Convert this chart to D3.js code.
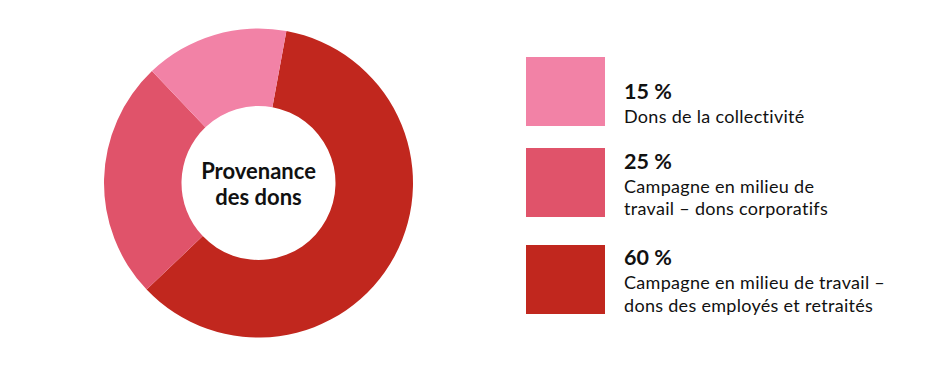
<!DOCTYPE html>
<html>
<head>
<meta charset="utf-8">
<script src="https://cdn.jsdelivr.net/npm/d3@7"></script>
<style>
  html, body { margin: 0; padding: 0; background: #ffffff; }
  svg { display: block; font-family: Lato, "Noto Sans", sans-serif; font-variant-ligatures: none; }
</style>
</head>
<body>
<svg id="chart" width="940" height="366"></svg>
<script>
// Data
const categories = [
  "Campagne en milieu de travail – dons des employés et retraités",
  "Campagne en milieu de travail – dons corporatifs",
  "Dons de la collectivité"
];
const values = [60, 25, 15];
const percentLabels = ["60 %", "25 %", "15 %"];
const colors = ["#c1271e", "#e0536a", "#f282a6"];
// legend order (top to bottom) and line breaks
const legendOrder = [2, 1, 0];
const legendLines = [
  ["Campagne en milieu de travail –", "dons des employés et retraités"],
  ["Campagne en milieu de", "travail – dons corporatifs"],
  ["Dons de la collectivité"]
];
const centerTitle = ["Provenance", "des dons"];

const svg = d3.select("#chart");

// Donut
const cx = 258.5, cy = 183, outerR = 154.5, innerR = 77;
const startRot = 10.4 * Math.PI / 180;
const pie = d3.pie().sort(null).value(d => d)
  .startAngle(startRot).endAngle(startRot + 2 * Math.PI);
const arc = d3.arc().innerRadius(innerR).outerRadius(outerR);

const g = svg.append("g").attr("transform", `translate(${cx},${cy})`);
g.selectAll("path").data(pie(values)).join("path")
  .attr("d", arc)
  .attr("fill", (d, i) => colors[i]);

g.append("text")
  .attr("text-anchor", "middle")
  .attr("font-weight", "bold")
  .attr("font-size", 22)
  .attr("fill", "#111")
  .selectAll("tspan").data(centerTitle).join("tspan")
  .attr("x", 0)
  .attr("y", (d, i) => -4.5 + i * 26.5)
  .text(d => d);

// Legend
const lx = 526, sw = 79, sh = 69;
const itemTops = [57, 148, 245];
const textOffsets = [41.7, 20.7, 20];
const legend = svg.append("g");
legendOrder.forEach((idx, k) => {
  const top = itemTops[k];
  const it = legend.append("g").attr("transform", `translate(${lx},${top})`);
  it.append("rect").attr("width", sw).attr("height", sh).attr("fill", colors[idx]);
  it.append("text")
    .attr("x", 98).attr("y", textOffsets[k])
    .attr("font-weight", "bold").attr("font-size", 21.5).attr("fill", "#111")
    .text(percentLabels[idx]);
  it.append("text")
    .attr("font-size", 18).attr("fill", "#111")
    .attr("letter-spacing", 0.3)
    .selectAll("tspan").data(legendLines[idx]).join("tspan")
    .attr("x", 98)
    .attr("y", (d, i) => textOffsets[k] + 24.3 + i * 22.3)
    .text(d => d);
});
</script>
</body>
</html>
